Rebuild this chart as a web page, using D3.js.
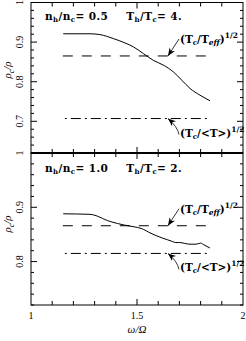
<!DOCTYPE html>
<html><head><meta charset="utf-8">
<script src="https://cdn.jsdelivr.net/npm/d3@7"></script>
<style>body{margin:0;background:#fff}svg{display:block}text{font-family:"Liberation Serif","DejaVu Serif",serif;fill:#000}.ann{font-family:"DejaVu Serif",serif}</style>
</head><body><div id="c"></div>
<script>
// ---- data ----
const topOmega   = [1.152,1.278,1.325,1.388,1.443,1.483,1.530,1.577,1.624,1.671,1.711,1.750,1.797,1.844];
const topRho     = [0.921,0.921,0.919,0.909,0.898,0.888,0.871,0.854,0.842,0.825,0.804,0.783,0.766,0.752];
const botOmega   = [1.152,1.278,1.372,1.443,1.487,1.520,1.566,1.622,1.645,1.667,1.683,1.700,1.750,1.778,1.800,1.815,1.844];
const botRho     = [0.888,0.887,0.874,0.867,0.864,0.861,0.852,0.843,0.840,0.837,0.835,0.835,0.832,0.832,0.834,0.831,0.825];
const topTeff = 0.865, topTmean = 0.707;
const botTeff = 0.866, botTmean = 0.815;
const refOmega = [1.15, 1.845];
const xTicks = [1, 1.5, 2];
const topYTicks = [1, 0.9, 0.8, 0.7];
const botYTicks = [1, 0.9, 0.8];
const panelLabels = [["n","h","n","c","0.5","T","h","T","c","4."],["n","h","n","c","1.0","T","h","T","c","2."]];

const W = 246, H = 341;
const svg = d3.select("#c").append("svg").attr("width", W).attr("height", H);
const x = d3.scaleLinear().domain([1, 2]).range([31, 243]);
const yTop = d3.scaleLinear().domain([0.62, 1]).range([153, 2.5]);
const yBot = d3.scaleLinear().domain([0.72, 1]).range([305, 153]);

svg.append("defs").append("marker").attr("id","ah").attr("viewBox","0 0 10 10")
  .attr("refX",10).attr("refY",5).attr("markerWidth",8).attr("markerHeight",8)
  .attr("markerUnits","userSpaceOnUse").attr("orient","auto")
  .append("path").attr("d","M0,1 L10,5 L0,9 L3,5 Z").attr("fill","#000");

function panel(y, yTicks, omega, rho, teff, tmean, lab, opts) {
  const g = svg.append("g");
  const [y0, y1] = y.range();
  g.append("rect").attr("x", x(1)).attr("y", y1).attr("width", x(2)-x(1)).attr("height", y0-y1)
    .attr("fill","none").attr("stroke","#000").attr("stroke-width",1);
  const dom = y.domain();
  for (let v = Math.ceil(dom[0]/0.02)*0.02; v <= dom[1]+1e-9; v += 0.02) {
    const vv = Math.round(v*100)/100;
    const major = Math.abs(vv*10 - Math.round(vv*10)) < 1e-6;
    const len = major ? 6 : 3;
    g.append("line").attr("x1", x(1)).attr("x2", x(1)+len).attr("y1", y(vv)).attr("y2", y(vv)).attr("stroke","#000");
    g.append("line").attr("x1", x(2)).attr("x2", x(2)-len).attr("y1", y(vv)).attr("y2", y(vv)).attr("stroke","#000");
  }
  for (let i = 1; i < 10; i++) {
    const v = 1 + i/10, len = i === 5 ? 6 : 4;
    g.append("line").attr("x1", x(v)).attr("x2", x(v)).attr("y1", y0).attr("y2", y0-len).attr("stroke","#000");
    g.append("line").attr("x1", x(v)).attr("x2", x(v)).attr("y1", y1).attr("y2", y1+len).attr("stroke","#000");
  }
  yTicks.forEach(t => {
    g.append("text").attr("transform", `translate(23,${y(t)}) rotate(-90)`)
      .attr("text-anchor","middle").attr("font-size",10).text(t === 1 ? "1" : t.toFixed(1));
  });
  const yt = g.append("text").attr("transform", `translate(11,${opts.titleY}) rotate(-90)`)
    .attr("text-anchor","middle").attr("font-size",11).attr("font-style","italic");
  yt.append("tspan").text("ρ");
  yt.append("tspan").attr("font-size",8).attr("dy",3).text("c");
  yt.append("tspan").attr("dy",-3).text("/ρ");
  g.append("path").datum(omega.map((o,i)=>[o, rho[i]]))
    .attr("d", d3.line().x(d=>x(d[0])).y(d=>y(d[1])).curve(d3.curveMonotoneX))
    .attr("fill","none").attr("stroke","#000").attr("stroke-width",1);
  g.append("line").attr("x1", x(refOmega[0])).attr("x2", x(refOmega[1]-0.01)).attr("y1", y(teff)).attr("y2", y(teff))
    .attr("stroke","#000").attr("stroke-dasharray","10,9");
  g.append("line").attr("x1", x(refOmega[0])).attr("x2", x(refOmega[1])).attr("y1", y(tmean)).attr("y2", y(tmean))
    .attr("stroke","#000").attr("stroke-dasharray","2,4,10,4").attr("stroke-dashoffset",-2);
  const t = g.append("text").attr("class","ann").attr("x", 45).attr("y", y1 + opts.labY).attr("font-size",10.5).attr("font-weight","bold").attr("letter-spacing",0.4);
  const sub = (s) => t.append("tspan").attr("font-size",7).attr("dy",2).text(s);
  const up = () => t.append("tspan").attr("dy",-2);
  t.append("tspan").text(lab[0]); sub(lab[1]); up().text("/"+lab[2]); sub(lab[3]); up().text("= " + lab[4]);
  t.append("tspan").attr("dx",18).text(lab[5]); sub(lab[6]); up().text("/"+lab[7]); sub(lab[8]); up().text("= " + lab[9]);
  function ann(tx, ty, tipV, tailDy, label, sup, curveDir) {
    const tipX = x(1.646), tipY = y(tipV);
    const tailX = tx - 1, tailY = ty + tailDy;
    g.append("path").attr("d", `M${tailX},${tailY} Q${(tailX+tipX)/2 + curveDir},${(tailY+tipY)/2} ${tipX},${tipY}`)
      .attr("fill","none").attr("stroke","#000").attr("stroke-width",0.8).attr("marker-end","url(#ah)");
    const a = g.append("text").attr("class","ann").attr("x", tx).attr("y", ty).attr("font-size",10.5).attr("font-weight","bold");
    a.append("tspan").text("(T");
    a.append("tspan").attr("font-size",7).attr("dy",2).text("c");
    a.append("tspan").attr("dy",-2).text("/" + label[0]);
    if (label[1]) { a.append("tspan").attr("font-size",7.5).attr("dy",2).attr("font-style","italic").text(label[1]); a.append("tspan").attr("dy",-2).text(")"); }
    else a.append("tspan").text(")");
    a.append("tspan").attr("font-size",7.5).attr("dy",-5).text(sup);
  }
  ann(180, y(teff) - 13, teff, -4, ["T","eff"], "1/2", 0);
  ann(180, y(tmean) + 18, tmean, -2, ["<T>", null], "1/2", 4);
  return g;
}

panel(yTop, topYTicks, topOmega, topRho, topTeff, topTmean, panelLabels[0], {titleY: 70, labY: 17});
panel(yBot, botYTicks, botOmega, botRho, botTeff, botTmean, panelLabels[1], {titleY: 224, labY: 19});
svg.append("line").attr("x1", x(1)).attr("x2", x(2)).attr("y1", yTop(0.62)).attr("y2", yTop(0.62)).attr("stroke","#000").attr("stroke-width",2);

xTicks.forEach(t => svg.append("text").attr("x", x(t)).attr("y", 319).attr("text-anchor","middle").attr("font-size",10).text(String(t)));
svg.append("text").attr("x", x(1.5)).attr("y", 333).attr("text-anchor","middle").attr("font-size",11).attr("font-style","italic").text("ω/Ω");
</script></body></html>
